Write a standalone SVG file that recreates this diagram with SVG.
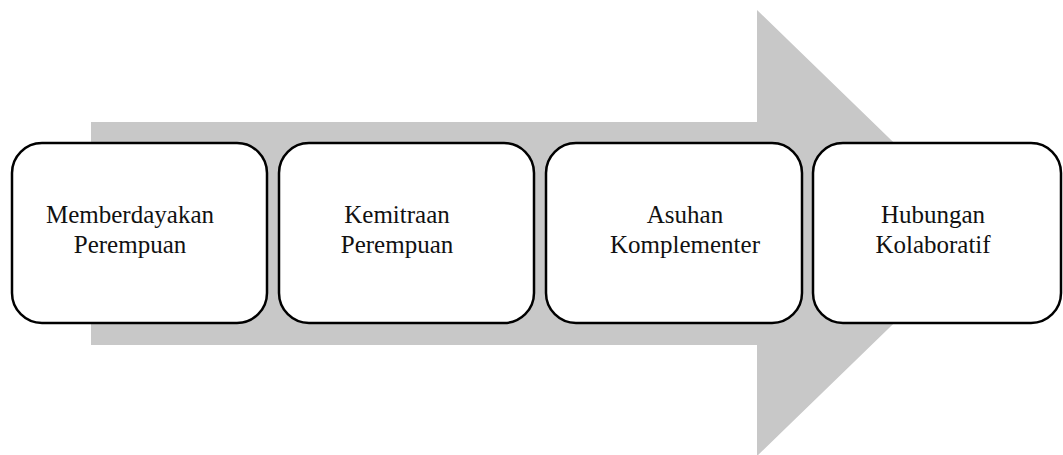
<svg xmlns="http://www.w3.org/2000/svg" width="1063" height="455" viewBox="0 0 1063 455">
  <style>
    .box { fill: #ffffff; stroke: #000000; stroke-width: 2.5; }
    .label { font-family: "Liberation Serif", "Times New Roman", serif; font-size: 25px; fill: #111111; text-anchor: middle; }
    .flow { fill: #c8c8c8; stroke: none; }
  </style>

  <!-- background process arrow -->
  <g id="connectors">
    <polygon class="flow" points="91,122 757,122 757,10 987,233 757,456 757,345 91,345"/>
  </g>

  <g id="node-1">
    <rect class="box" x="12" y="143" width="255" height="180" rx="30" ry="30"/>
    <text class="label" x="130" y="223">Memberdayakan</text>
    <text class="label" x="130" y="253">Perempuan</text>
  </g>

  <g id="node-2">
    <rect class="box" x="279" y="143" width="255" height="180" rx="30" ry="30"/>
    <text class="label" x="397" y="223">Kemitraan</text>
    <text class="label" x="397" y="253">Perempuan</text>
  </g>

  <g id="node-3">
    <rect class="box" x="546" y="143" width="256" height="180" rx="30" ry="30"/>
    <text class="label" x="685" y="223">Asuhan</text>
    <text class="label" x="685" y="253">Komplementer</text>
  </g>

  <g id="node-4">
    <rect class="box" x="813" y="143" width="248" height="180" rx="30" ry="30"/>
    <text class="label" x="933" y="223">Hubungan</text>
    <text class="label" x="933" y="253">Kolaboratif</text>
  </g>
</svg>
